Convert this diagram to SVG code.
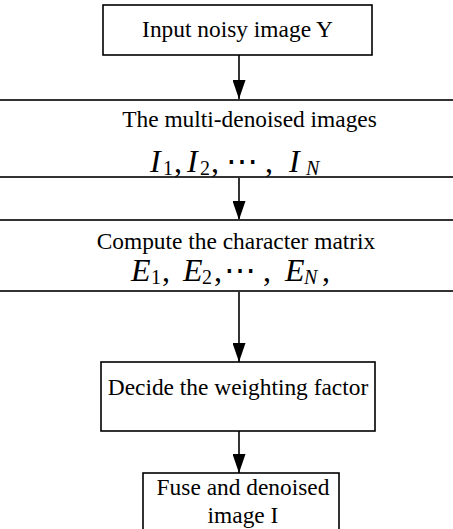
<svg xmlns="http://www.w3.org/2000/svg" width="453" height="529" viewBox="0 0 453 529">
  <style>
    .box { fill: #fff; stroke: #000; stroke-width: 1.6; }
    .rule { stroke: #333; stroke-width: 2; }
    .t { font-family: "Liberation Serif", "Times New Roman", serif; font-size: 23.4px; fill: #000; }
    .m { font-family: "Liberation Serif", "Times New Roman", serif; font-size: 32px; fill: #000; }
    .i { font-style: italic; }
    .sub { font-size: 20px; }
    .conn { stroke: #000; stroke-width: 1.6; fill: none; marker-end: url(#arr); }
  </style>
  <defs>
    <marker id="arr" markerUnits="userSpaceOnUse" markerWidth="19" markerHeight="13" viewBox="0 0 19 13" refX="19" refY="6.5" orient="auto">
      <path d="M0,0 L19,6.5 L0,13 Z" fill="#000"/>
    </marker>
  </defs>
  <rect width="453" height="529" fill="#fff"/>

  <g id="connectors">
    <line class="conn" x1="239" y1="55" x2="239" y2="99"/>
    <line class="conn" x1="239" y1="177" x2="239" y2="220"/>
    <line class="conn" x1="239" y1="291" x2="239" y2="362"/>
    <line class="conn" x1="239" y1="431" x2="239" y2="473"/>
  </g>

  <g id="input">
    <rect class="box" x="103" y="5" width="269" height="50"/>
    <text class="t" x="237.5" y="37" text-anchor="middle">Input noisy image Y</text>
  </g>

  <g id="multi">
    <line class="rule" x1="0" y1="100" x2="453" y2="100"/>
    <line class="rule" x1="0" y1="177" x2="453" y2="177"/>
    <text class="t" x="249.5" y="127" text-anchor="middle">The multi-denoised images</text>
    <text class="m" y="172"><tspan class="i" x="150">I</tspan><tspan class="sub" x="163" dy="3">1</tspan><tspan x="174" dy="-3">,</tspan><tspan class="i" x="187">I</tspan><tspan class="sub" x="200" dy="3">2</tspan><tspan x="211" dy="-3">,</tspan><tspan x="226">⋯</tspan><tspan x="265">,</tspan><tspan class="i" x="289">I</tspan><tspan class="sub i" x="306" dy="3">N</tspan></text>
  </g>

  <g id="compute">
    <line class="rule" x1="0" y1="220" x2="453" y2="220"/>
    <line class="rule" x1="0" y1="291" x2="453" y2="291"/>
    <text class="t" x="236" y="249" text-anchor="middle">Compute the character matrix</text>
    <text class="m" y="281"><tspan class="i" x="131">E</tspan><tspan class="sub" x="151" dy="3">1</tspan><tspan x="162" dy="-3">,</tspan><tspan class="i" x="183">E</tspan><tspan class="sub" x="202" dy="3">2</tspan><tspan x="214" dy="-3">,</tspan><tspan x="224">⋯</tspan><tspan x="263">,</tspan><tspan class="i" x="285">E</tspan><tspan class="sub i" x="304" dy="3">N</tspan><tspan x="322" dy="-3">,</tspan></text>
  </g>

  <g id="decide">
    <rect class="box" x="101" y="362" width="274" height="69"/>
    <text class="t" x="238" y="395" text-anchor="middle">Decide the weighting factor</text>
  </g>

  <g id="fuse">
    <rect class="box" x="143" y="473" width="196" height="70"/>
    <text class="t" x="243" y="495" text-anchor="middle">Fuse and denoised</text>
    <text class="t" x="243" y="523" text-anchor="middle">image I</text>
  </g>
</svg>
